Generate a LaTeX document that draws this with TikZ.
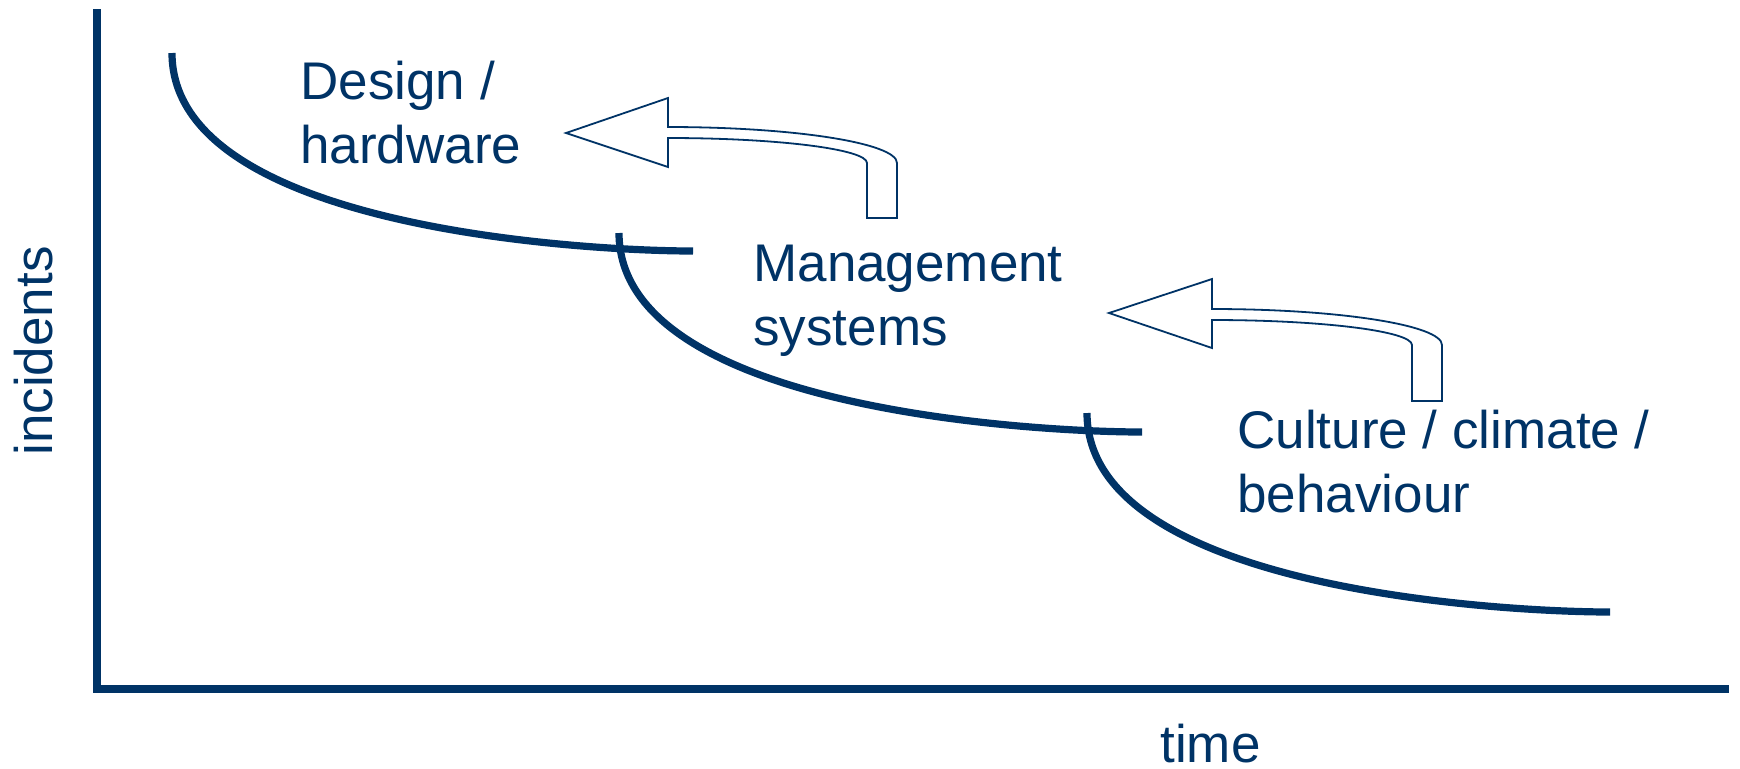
\documentclass[tikz,border=0pt]{standalone}
\usepackage{fontspec}
\setmainfont{Liberation Sans}
\definecolor{navy}{RGB}{0,51,102}
\begin{document}
\begin{tikzpicture}[x=0.5pt,y=-0.5pt,
  axis/.style={draw=navy,line width=4pt},
  stage/.style={draw=navy,line width=3.6pt},
  blockarrow/.style={draw=navy,line width=0.9pt,fill=white,line join=miter},
  lbl/.style={text=navy,font=\fontsize{26.5}{32}\selectfont,inner sep=0pt,align=left,anchor=base west}]
\useasboundingbox (0,0) rectangle (1740,768);

% axes
\coordinate (ytop) at (97,9);
\coordinate (origin) at (97,689);
\coordinate (xend) at (1729,689);
\draw[axis] (ytop) -- (97,693);
\draw[axis] (origin) -- (xend);

% stage curves
\coordinate (s1) at (172,53);  \coordinate (e1) at (693,251);
\coordinate (s2) at (619,233); \coordinate (e2) at (1142,432);
\coordinate (s3) at (1087,413);\coordinate (e3) at (1610,612);
\draw[stage] (s1) .. controls (172,230) and (593,251) .. (e1);
\draw[stage] (s2) .. controls (619,411) and (1042,432) .. (e2);
\draw[stage] (s3) .. controls (1087,591) and (1510,612) .. (e3);

% block arrows
\draw[blockarrow] (566,133) -- (668,98) -- (668,127)
  .. controls (794.5,127) and (897,143.1) .. (897,163) -- (897,218) -- (867,218) -- (867,163)
  .. controls (867,149.2) and (777.9,138) .. (668,138) -- (668,167) -- cycle;
\draw[blockarrow] (1109,313) -- (1212,279) -- (1212,309)
  .. controls (1339,309) and (1442,325.1) .. (1442,345) -- (1442,401) -- (1412,401) -- (1412,345)
  .. controls (1412,331.2) and (1322.5,320) .. (1212,320) -- (1212,348) -- cycle;

% labels (base anchor = baseline of last line)
\node[lbl] (design) at (300,163) {Design /\\hardware};
\node[lbl] (mgmt) at (753,345) {Management\\systems};
\node[lbl] (culture) at (1237,512) {Culture / climate /\\behaviour};
\node[lbl] (time) at (1160,762) {time};
\node[lbl,rotate=90,anchor=base] (inc) at (52,351) {incidents};
\end{tikzpicture}
\end{document}
